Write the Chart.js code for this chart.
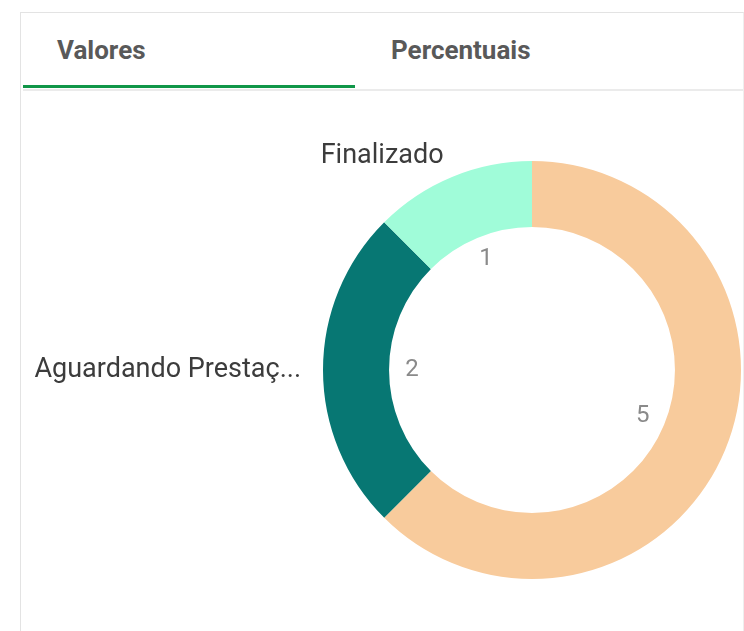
<!DOCTYPE html>
<html>
<head>
<meta charset="utf-8">
<script src="https://cdn.jsdelivr.net/npm/chart.js@4.4.0/dist/chart.umd.min.js"></script>
<style>
  html, body { margin: 0; padding: 0; background: #fff; }
  body { width: 744px; height: 631px; position: relative; overflow: hidden; }
  .panel {
    position: absolute; left: 20px; top: 12px; width: 722px; height: 640px;
    border-left: 1px solid #e3e3e3; border-top: 1px solid #e3e3e3; border-right: 1px solid #eeeeee;
  }
  .tabs { position: absolute; left: 2px; top: 0; right: 0; height: 76px; border-bottom: 2px solid #ebebeb; }
  .tab {
    position: absolute; top: 22px; font-family: "Liberation Sans Narrow", "Roboto", sans-serif;
    font-weight: bold; font-size: 26px; color: #595959;
  }
  .tab.active::after {
    content: ""; position: absolute; left: -34px; width: 332px; top: 50px; height: 3px; background: #109648;
  }
  canvas { position: absolute; left: 0; top: 0; }
</style>
</head>
<body>
<div class="panel">
  <div class="tabs">
    <div class="tab active" style="left:34px">Valores</div>
    <div class="tab" style="left:368px">Percentuais</div>
  </div>
</div>
<canvas id="chart" width="744" height="631"></canvas>
<script>
"use strict";

// slices in clockwise order starting at 12 o'clock
var categories = ["Em Andamento", "Aguardando Prestação de Contas", "Finalizado"];
var values = [5, 2, 1];
var colors = ["#f8cb9c", "#077773", "#a0fcd9"];

function fitText(ctx, text, maxWidth) {
  if (ctx.measureText(text).width <= maxWidth) return text;
  var s = text;
  while (s.length > 1 && ctx.measureText(s + "...").width > maxWidth) {
    s = s.slice(0, -1);
  }
  return s + "...";
}

var sliceLabels = {
  id: "sliceLabels",
  afterDraw: function(chart) {
    var ctx = chart.ctx;
    var meta = chart.getDatasetMeta(0);
    ctx.save();
    meta.data.forEach(function(arc, i) {
      var mid = (arc.startAngle + arc.endAngle) / 2;
      var cx = arc.x, cy = arc.y;
      var cos = Math.cos(mid), sin = Math.sin(mid);

      // value inside the hole
      ctx.font = "24px Roboto, sans-serif";
      ctx.fillStyle = "#8a8a8a";
      ctx.textAlign = "center";
      ctx.textBaseline = "middle";
      ctx.fillText(String(values[i]), cx + cos * 120, cy + sin * 120);

      // category name outside the ring
      var r = arc.outerRadius + 22;
      var x = cx + cos * r, y = cy + sin * r;
      ctx.font = "27px Roboto, sans-serif";
      ctx.fillStyle = "#3c3c3c";
      if (cos < 0) {
        ctx.textAlign = "right";
        ctx.fillText(fitText(ctx, categories[i], x - 32), x, y);
      } else {
        ctx.textAlign = "left";
        ctx.fillText(fitText(ctx, categories[i], 744 - x), x, y);
      }
    });
    ctx.restore();
  }
};

new Chart(document.getElementById("chart"), {
  type: "doughnut",
  data: {
    labels: categories,
    datasets: [{
      data: values,
      backgroundColor: colors,
      hoverBackgroundColor: colors,
      borderWidth: 0
    }]
  },
  options: {
    responsive: false,
    animation: false,
    cutout: "68.4%",
    layout: { padding: { left: 323, right: 3, top: 161, bottom: 52 } },
    plugins: {
      legend: { display: false },
      tooltip: { enabled: false }
    }
  },
  plugins: [sliceLabels]
});
</script>
</body>
</html>
